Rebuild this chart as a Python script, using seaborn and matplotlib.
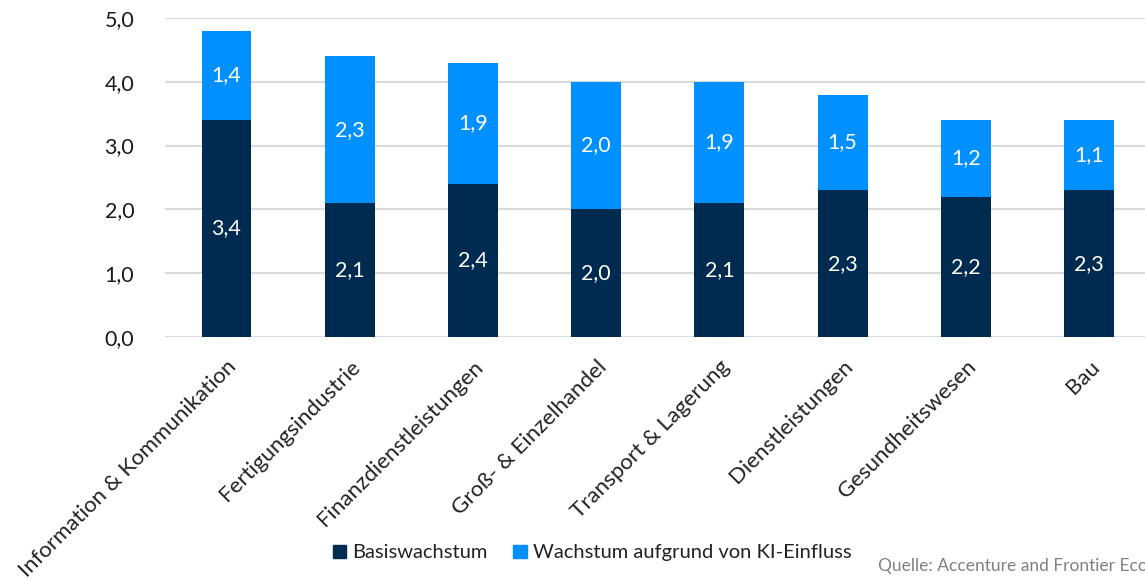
import pandas as pd
import numpy as np
from matplotlib import pyplot as plt
from matplotlib.patches import Patch
import seaborn as sns

# data
branchen = ['Information & Kommunikation', 'Fertigungsindustrie', 'Finanzdienstleistungen',
            'Groß- & Einzelhandel', 'Transport & Lagerung', 'Dienstleistungen',
            'Gesundheitswesen', 'Bau']
basis = [3.4, 2.1, 2.4, 2.0, 2.1, 2.3, 2.2, 2.3]
ki = [1.4, 2.3, 1.9, 2.0, 1.9, 1.5, 1.2, 1.1]
y_ticks = [0, 1, 2, 3, 4, 5]

dark = '#002B50'
light = '#0090FF'

df = pd.DataFrame({'Branche': branchen, 'Basis': basis, 'KI': ki})
df['Gesamt'] = df['Basis'] + df['KI']

sns.set_style('white')
plt.rcParams['font.family'] = ['Lato', 'DejaVu Sans']

fig = plt.figure(figsize=(11.45, 5.79), dpi=100)
ax = fig.add_axes([0.144, 0.418, 0.861, 0.551])

# stacked: total in light blue, base drawn over it in dark
sns.barplot(data=df, x='Branche', y='Gesamt', color=light, width=0.405,
            saturation=1, linewidth=0, ax=ax, zorder=3)
sns.barplot(data=df, x='Branche', y='Basis', color=dark, width=0.405,
            saturation=1, linewidth=0, ax=ax, zorder=4)

for i, row in df.iterrows():
    ax.text(i, row['Basis'] / 2, f"{row['Basis']:.1f}".replace('.', ','),
            ha='center', va='center', color='white', fontsize=15.5, zorder=5)
    ax.text(i, row['Basis'] + row['KI'] / 2, f"{row['KI']:.1f}".replace('.', ','),
            ha='center', va='center', color='white', fontsize=15.5, zorder=5)

ax.set_ylim(0, 5)
ax.set_xlim(-0.5, len(branchen) - 0.5)
ax.set_yticks(y_ticks)
ax.set_yticklabels([f'{v:.1f}'.replace('.', ',') for v in y_ticks], fontsize=15.5, color='#1a1a1a')
ax.yaxis.grid(True, color='#D9D9D9', linewidth=1.5, zorder=0)
ax.set_axisbelow(True)
ax.tick_params(axis='both', length=0)
ax.tick_params(axis='y', pad=22)
ax.tick_params(axis='x', pad=14)
plt.setp(ax.get_xticklabels(), rotation=45, ha='right', rotation_mode='anchor',
         fontsize=16, color='#222222')
ax.set_xlabel('')
ax.set_ylabel('')
sns.despine(ax=ax, left=True, bottom=True)

handles = [Patch(color=dark, label='Basiswachstum'),
           Patch(color=light, label='Wachstum aufgrund von KI-Einfluss')]
leg = fig.legend(handles=handles, loc='center', bbox_to_anchor=(0.517, 0.045), ncol=2,
                 frameon=False, fontsize=14.5, handlelength=0.65, handleheight=0.65,
                 handletextpad=0.3, columnspacing=1.3)
for t in leg.get_texts():
    t.set_color('#222222')

fig.text(0.767, 0.008, 'Quelle: Accenture and Frontier Economics', fontsize=12.5,
         color='#808080', ha='left', va='bottom')

fig.savefig('out.png', dpi=100)
